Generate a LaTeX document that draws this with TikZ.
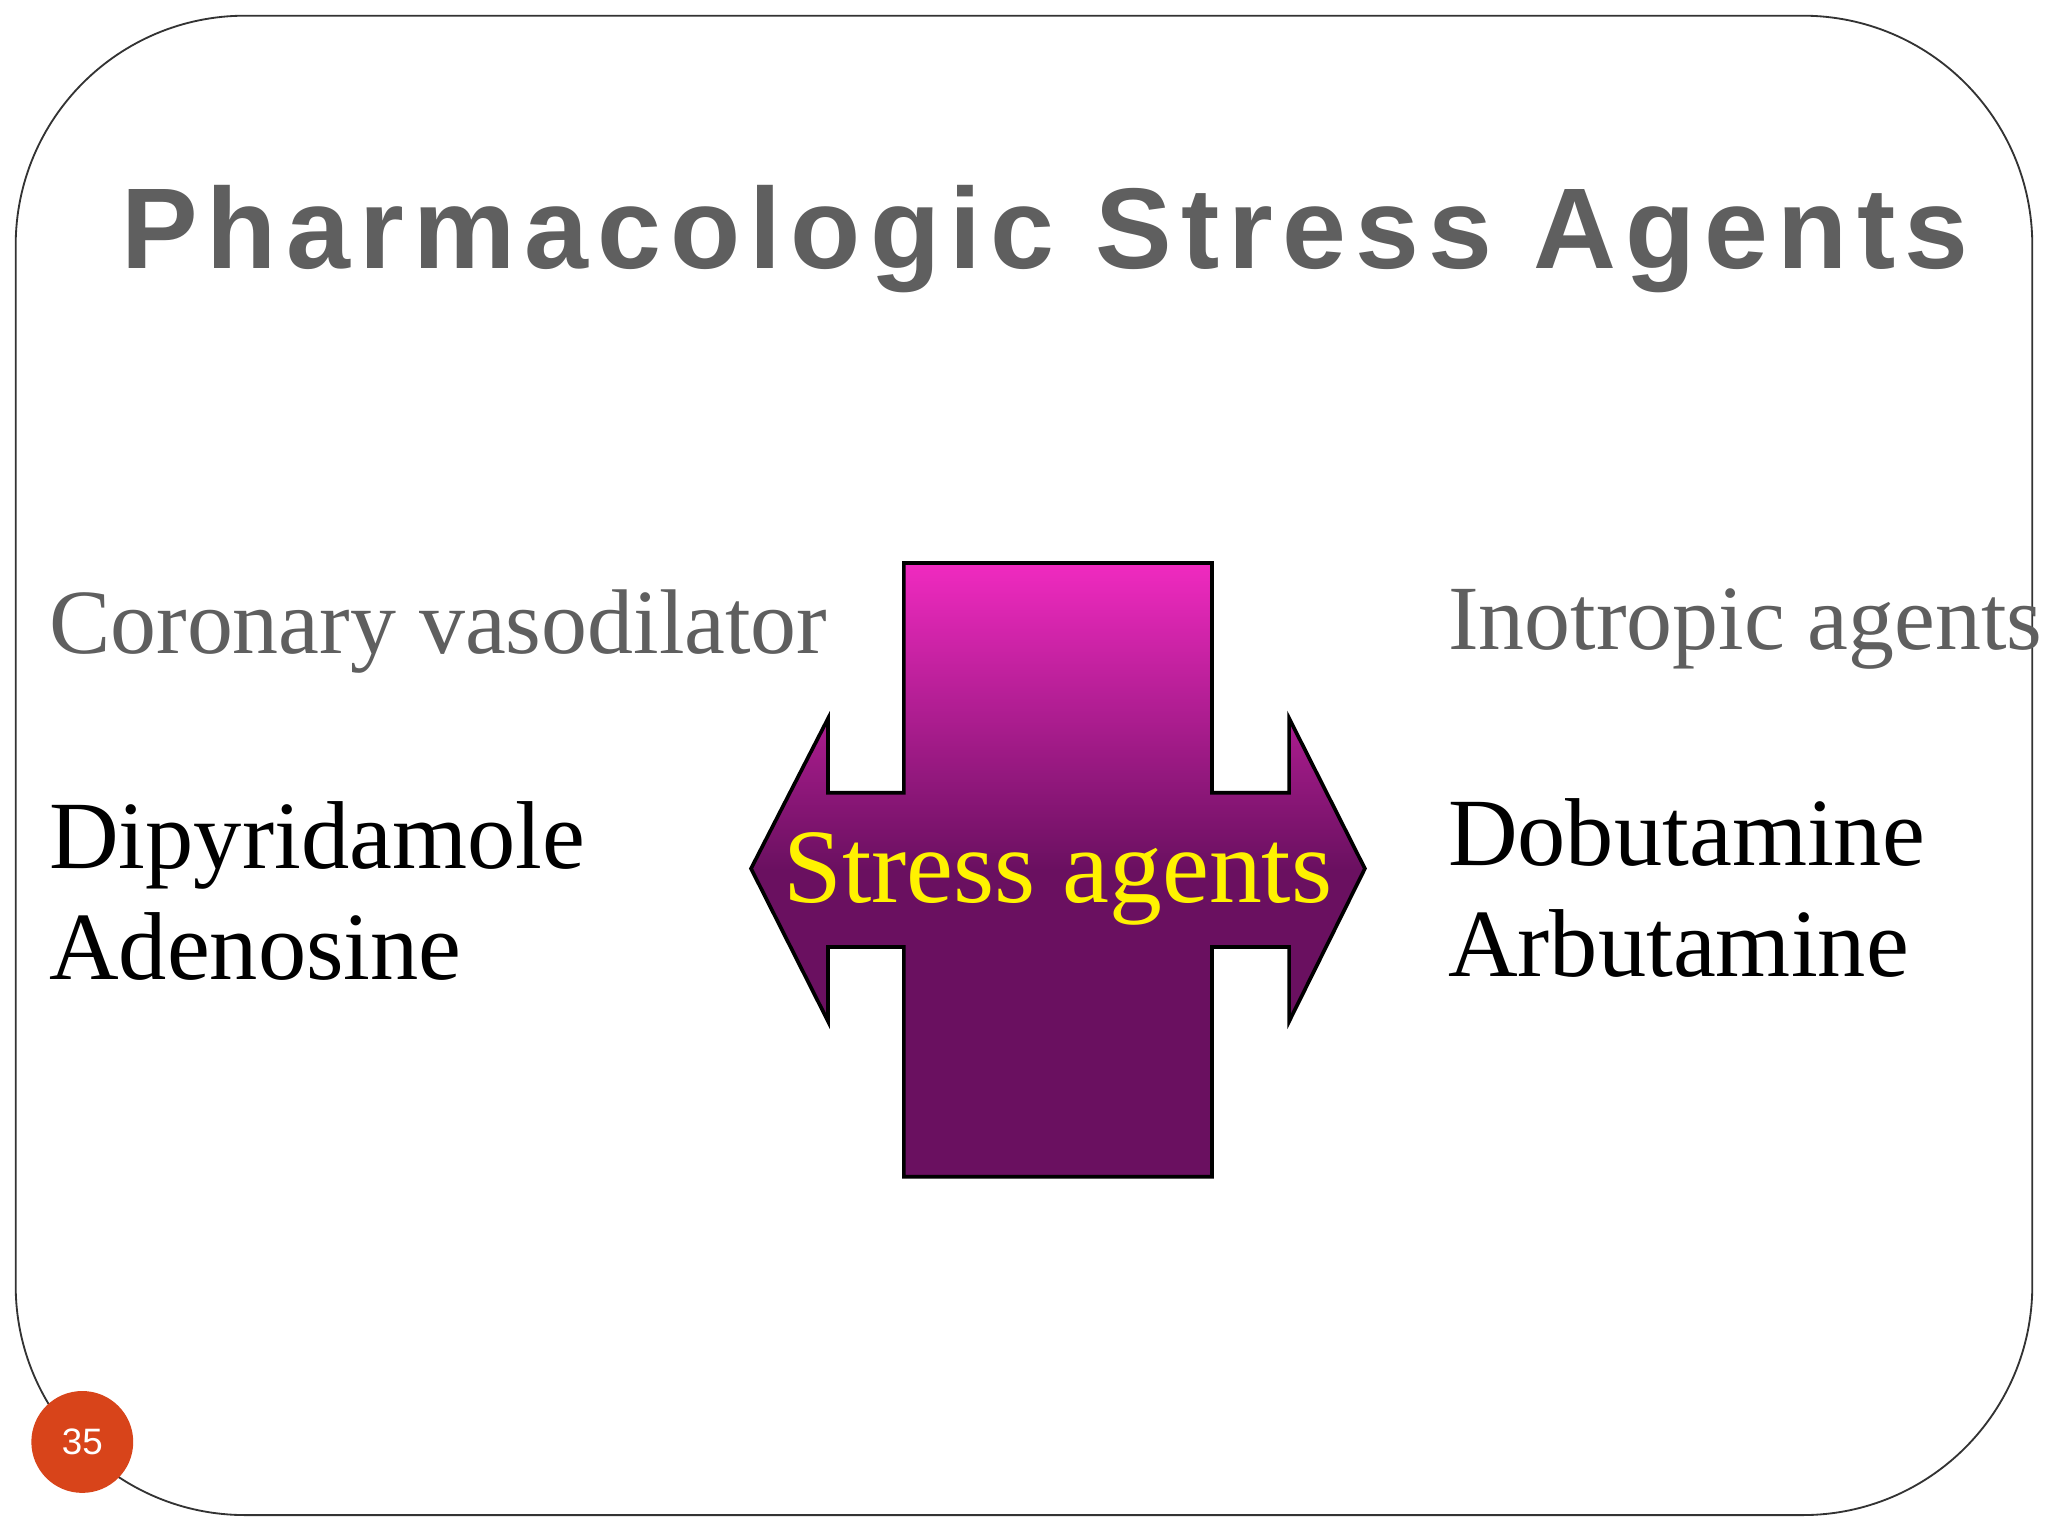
\documentclass[tikz,border=0pt]{standalone}
\usepackage{fontspec}
\setmainfont{Liberation Serif}
\newfontfamily\titlefont[LetterSpace=8]{Liberation Sans}
\newfontfamily\numfont{Liberation Sans}
\definecolor{ttl}{HTML}{5F5F5F}
\definecolor{mag}{HTML}{F02AC0}
\definecolor{dpur}{HTML}{6A1060}
\definecolor{pnum}{HTML}{D8441A}
\tikzset{lbl/.style={anchor=base west,inner sep=0pt}}
\begin{document}
\begin{tikzpicture}[x=0.01cm,y=-0.01cm]
\useasboundingbox (0,0) rectangle (1568,1176);
\fill[white] (0,0) rectangle (1568,1176);
\draw[black!80,rounded corners=50] (12,12) rectangle (1556,1160);
\node[text=ttl,font=\titlefont\bfseries\fontsize{25}{30}\selectfont] (title) at (800,183) {Pharmacologic Stress Agents};
\shade[top color=mag,bottom color=dpur,draw=black,line width=0.8pt,middle color=dpur,shading angle=0]
 (692,431) -- (928,431) -- (928,607) -- (987,607) -- (987,550) -- (1045,665) -- (987,782) -- (987,725) -- (928,725) -- (928,901) -- (692,901) -- (692,725) -- (634,725) -- (634,782) -- (575,665) -- (634,550) -- (634,607) -- (692,607) -- cycle;
\node[text=yellow,font=\fontsize{23}{28}\selectfont,inner sep=0pt] (sa) at (810,673) {Stress agents};
\node[lbl,text=ttl,font=\fontsize{20}{24}\selectfont] (cv) at (37,500) {Coronary vasodilator};
\node[lbl,font=\fontsize{21}{25}\selectfont] (dip) at (37,665) {Dipyridamole};
\node[lbl,font=\fontsize{21}{25}\selectfont] (ade) at (37,750) {Adenosine};
\node[lbl,text=ttl,font=\fontsize{20}{24}\selectfont] (ino) at (1108,497) {Inotropic agents};
\node[lbl,font=\fontsize{21}{25}\selectfont] (dob) at (1108,663) {Dobutamine};
\node[lbl,font=\fontsize{21}{25}\selectfont] (arb) at (1108,748) {Arbutamine};
\fill[pnum] (63,1104) circle (39);
\node[text=white,font=\numfont\fontsize{8}{10}\selectfont] (pn) at (63,1104) {35};
\end{tikzpicture}
\end{document}
